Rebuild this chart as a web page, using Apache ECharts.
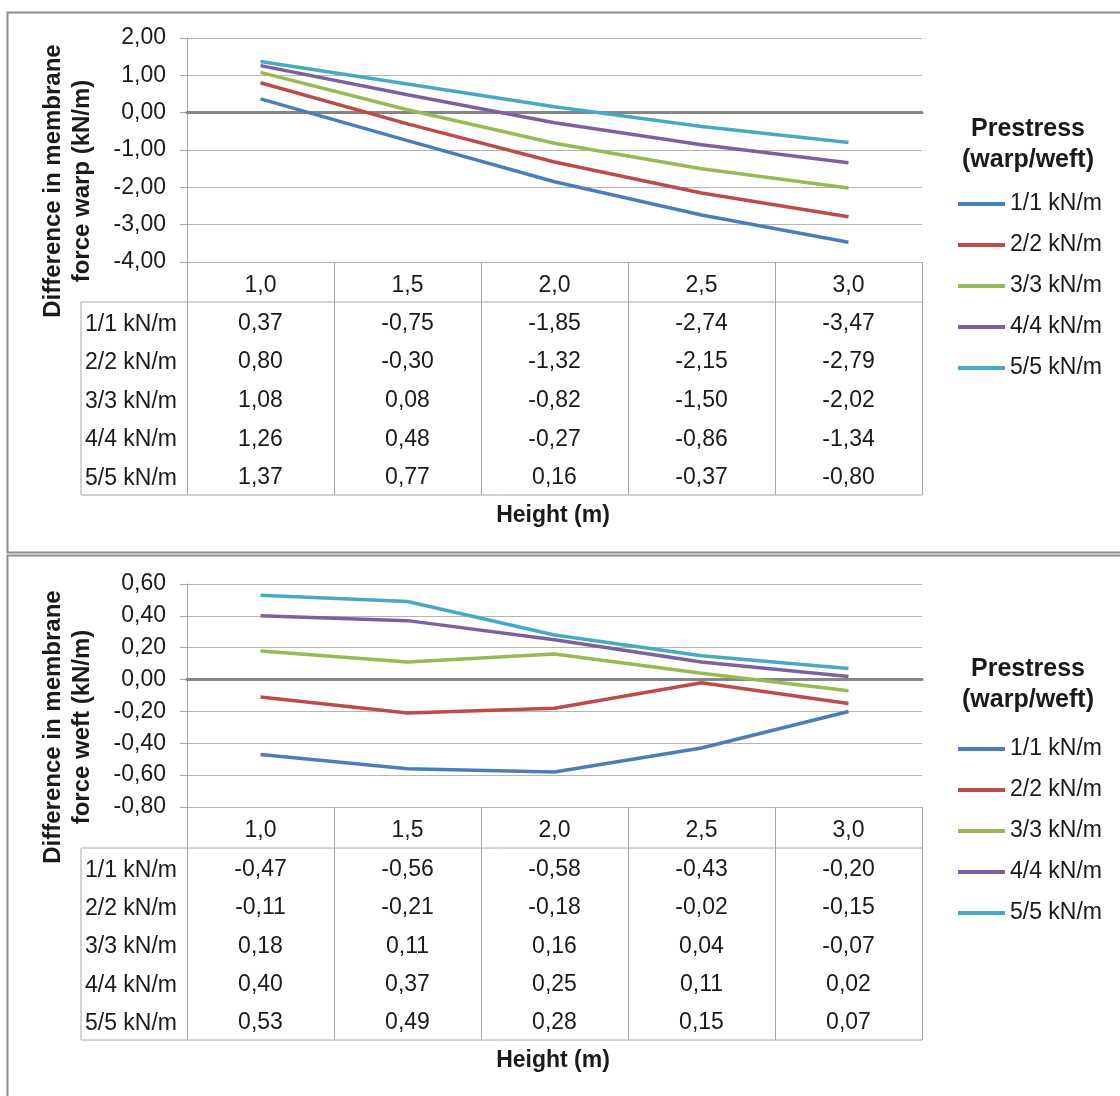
<!DOCTYPE html>
<html>
<head>
<meta charset="utf-8">
<script src="https://cdn.jsdelivr.net/npm/echarts@6/dist/echarts.min.js"></script>
<style>
html,body{margin:0;padding:0;background:#fff;}
#chart{width:1120px;height:1096px;}
</style>
</head>
<body>
<div id="chart"></div>
<script>
// ---------- data ----------
const categories = ['1,0', '1,5', '2,0', '2,5', '3,0'];
const seriesNames = ['1/1 kN/m', '2/2 kN/m', '3/3 kN/m', '4/4 kN/m', '5/5 kN/m'];

const warp_1_1 = [0.37, -0.75, -1.85, -2.74, -3.47];
const warp_2_2 = [0.80, -0.30, -1.32, -2.15, -2.79];
const warp_3_3 = [1.08, 0.08, -0.82, -1.50, -2.02];
const warp_4_4 = [1.26, 0.48, -0.27, -0.86, -1.34];
const warp_5_5 = [1.37, 0.77, 0.16, -0.37, -0.80];

const weft_1_1 = [-0.47, -0.56, -0.58, -0.43, -0.20];
const weft_2_2 = [-0.11, -0.21, -0.18, -0.02, -0.15];
const weft_3_3 = [0.18, 0.11, 0.16, 0.04, -0.07];
const weft_4_4 = [0.40, 0.37, 0.25, 0.11, 0.02];
const weft_5_5 = [0.53, 0.49, 0.28, 0.15, 0.07];

const warpAxis = { min: -4, max: 2, interval: 1 };
const weftAxis = { min: -0.8, max: 0.6, interval: 0.2 };

const yTitleWarp = 'Difference in membrane\nforce warp (kN/m)';
const yTitleWeft = 'Difference in membrane\nforce weft (kN/m)';
const xTitle = 'Height (m)';
const legendTitle = 'Prestress\n(warp/weft)';

// ---------- style ----------
const colors = ['#4a7ebb', '#be4b48', '#98b954', '#7d60a0', '#46aac5'];
const FONT = 'Liberation Sans, Arial, sans-serif';
const TXT = '#1a1a1a';
const GRID_C = '#b4b4b4';
const TABLE_C = '#a6a6a6';
const fmt = v => (Math.round(v * 100) / 100).toFixed(2).replace('.', ',');

const panels = [
  { rows: [warp_1_1, warp_2_2, warp_3_3, warp_4_4, warp_5_5], axis: warpAxis, yTitle: yTitleWarp,
    gridTop: 38, gridH: 224, headerH: 40, rowH: 38.6, legendTop: 192, legendTitleY: 130, frameTop: 12, frameH: 540 },
  { rows: [weft_1_1, weft_2_2, weft_3_3, weft_4_4, weft_5_5], axis: weftAxis, yTitle: yTitleWeft,
    gridTop: 584, gridH: 223, headerH: 41, rowH: 38.4, legendTop: 737, legendTitleY: 670, frameTop: 555, frameH: 700 }
];
const GRID_LEFT = 187, GRID_W = 735, LABEL_COL_X = 81;

const grid = [], xAxis = [], yAxis = [], series = [], legend = [], graphic = [];

panels.forEach((p, pi) => {
  const tableTop = p.gridTop + p.gridH;
  const headerBottom = tableTop + p.headerH;
  const tableBottom = headerBottom + 5 * p.rowH;
  grid.push({ left: GRID_LEFT, top: p.gridTop, width: GRID_W, height: p.gridH, containLabel: false });

  const baseX = xAxis.length;
  // axis through zero (series axis)
  xAxis.push({
    type: 'category', gridIndex: pi, data: categories, boundaryGap: true,
    axisLine: { show: true, onZero: true, lineStyle: { color: '#868686', width: 3 } },
    axisTick: { show: false }, axisLabel: { show: false }, splitLine: { show: false }, z: 5
  });
  // header row of the table with column separators
  xAxis.push({
    type: 'category', gridIndex: pi, data: categories, boundaryGap: true, position: 'bottom', offset: 0,
    axisLine: { show: false, onZero: false },
    axisTick: { show: true, length: tableBottom - tableTop, lineStyle: { color: TABLE_C, width: 1 } },
    axisLabel: { interval: 0, fontSize: 23, fontFamily: FONT, color: TXT, margin: 12 },
    splitLine: { show: false }
  });
  // value rows of the table
  p.rows.forEach((row, r) => {
    xAxis.push({
      type: 'category', gridIndex: pi, data: categories, boundaryGap: true, position: 'bottom',
      offset: p.headerH + r * p.rowH,
      axisLine: { show: false, onZero: false }, axisTick: { show: false },
      axisLabel: { interval: 0, fontSize: 23, fontFamily: FONT, color: TXT, margin: Math.round(p.rowH / 2 - 9),
        formatter: (v, i) => fmt(row[i]) },
      splitLine: { show: false }
    });
  });

  yAxis.push({
    type: 'value', gridIndex: pi, min: p.axis.min, max: p.axis.max, interval: p.axis.interval,
    axisLine: { show: true, lineStyle: { color: TABLE_C, width: 1 } },
    axisTick: { show: true, length: 7, lineStyle: { color: TABLE_C } },
    axisLabel: { fontSize: 23, fontFamily: FONT, color: TXT, margin: 21, formatter: v => fmt(v) },
    splitLine: { show: true, lineStyle: { color: GRID_C, width: 1 } }
  });

  p.rows.forEach((row, r) => {
    series.push({
      name: seriesNames[r], type: 'line', xAxisIndex: baseX, yAxisIndex: pi, data: row,
      symbol: 'none', smooth: false, color: colors[r],
      lineStyle: { color: colors[r], width: 3.5 }, z: 10
    });
  });

  legend.push({
    orient: 'vertical', left: 958, top: p.legendTop, padding: 0, icon: 'rect', itemWidth: 47, itemHeight: 4,
    itemGap: 17, data: seriesNames,
    textStyle: { fontSize: 23, fontFamily: FONT, color: TXT, lineHeight: 24 }
  });

  // frame
  graphic.push({ type: 'rect', silent: true, shape: { x: 7.5, y: p.frameTop + 0.5, width: 1300, height: p.frameH },
    style: { fill: 'none', stroke: '#8c8c8c', lineWidth: 2 } });
  // table lines (label column)
  const line = (x1, y1, x2, y2) => graphic.push({ type: 'line', silent: true,
    shape: { x1, y1, x2, y2 }, style: { stroke: TABLE_C, lineWidth: 1 } });
  line(LABEL_COL_X, headerBottom, GRID_LEFT + GRID_W, headerBottom);
  line(LABEL_COL_X, tableBottom, GRID_LEFT + GRID_W, tableBottom);
  line(LABEL_COL_X, headerBottom, LABEL_COL_X, tableBottom);
  // row labels
  seriesNames.forEach((n, r) => {
    graphic.push({ type: 'text', silent: true, x: LABEL_COL_X + 4, y: headerBottom + (r + 0.5) * p.rowH + 3,
      style: { text: n, font: '23px ' + FONT, fill: TXT, align: 'left', verticalAlign: 'middle' } });
  });
  // x title
  graphic.push({ type: 'text', silent: true, x: 553, y: tableBottom + 21,
    style: { text: xTitle, font: 'bold 23px ' + FONT, fill: TXT, align: 'center', verticalAlign: 'middle' } });
  // y title
  graphic.push({ type: 'text', silent: true, x: 68, y: p.gridTop + 143, rotation: Math.PI / 2,
    style: { text: p.yTitle, font: 'bold 24px ' + FONT, fill: TXT, align: 'center', verticalAlign: 'middle', lineHeight: 29 } });
  // legend title
  graphic.push({ type: 'text', silent: true, x: 1028, y: p.legendTitleY + 15,
    style: { text: legendTitle, font: 'bold 25px ' + FONT, fill: TXT, align: 'center', verticalAlign: 'middle', lineHeight: 31 } });
});

const chart = echarts.init(document.getElementById('chart'), null, { renderer: 'canvas' });
chart.setOption({
  backgroundColor: '#ffffff',
  animation: false,
  grid, xAxis, yAxis, series, legend, graphic
});
</script>
</body>
</html>
